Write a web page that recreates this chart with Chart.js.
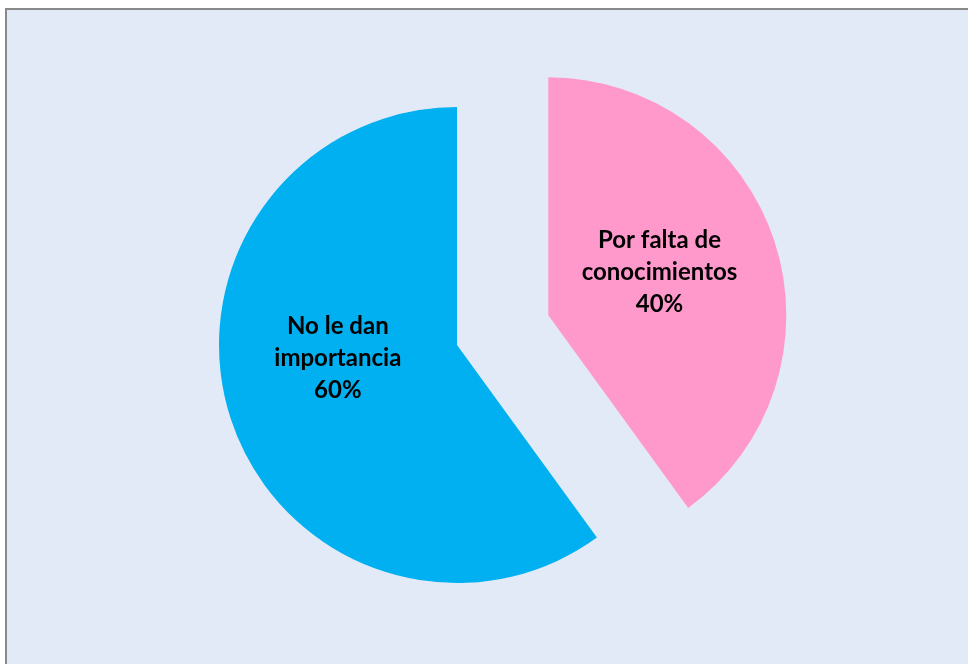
<!DOCTYPE html>
<html lang="es">
<head>
    <meta charset="UTF-8">
    <title>Motivos</title>
    <script src="https://cdn.jsdelivr.net/npm/chart.js"></script>
    <style>
        html, body { margin: 0; padding: 0; background: #ffffff; overflow: hidden; }
        .frame {
            position: absolute; left: 5px; top: 8px; width: 980px; height: 680px;
            background: #e3eaf7; border-left: 2px solid #8a8a8a; border-top: 2px solid #8a8a8a;
        }
        .chart-box { position: absolute; left: 0; top: 0; width: 968px; height: 664px; }
    </style>
</head>
<body>
    <div class="frame"></div>
    <div class="chart-box">
        <canvas id="pieChart"></canvas>
    </div>

    <script>
        const labels = ['Por falta de conocimientos', 'No le dan importancia'];
        const labelLines = [['Por falta de', 'conocimientos'], ['No le dan', 'importancia']];
        const values = [40, 60];
        const colors = ['#ff99cc', '#00b0f0'];
        const offsets = [384, 0];
        const PIE_RADIUS = 238;
        // small nudges for the label blocks (px)
        const labelShift = [[-2, -6], [-6, -24]];

        // Chart.js v4 grows an exploded arc's radius and trims its angle a bit;
        // undo both so the slice keeps the same radius and sweep as the rest
        const evenRadius = {
            id: 'evenRadius',
            afterDatasetsUpdate(chart) {
                chart.getDatasetMeta(0).data.forEach(arc => {
                    const off = (arc.options.offset || 0) / 4;
                    if (!off) return;
                    const fix = 1 - Math.sin(Math.min(Math.PI, arc.circumference));
                    const radiusOffset = off * fix;
                    const trim = radiusOffset / Math.PI / PIE_RADIUS / 2;
                    arc.outerRadius = PIE_RADIUS - radiusOffset;
                    arc.startAngle -= trim;
                    arc.endAngle += trim;
                });
            }
        };

        // writes category + percentage inside each slice
        const sliceLabels = {
            id: 'sliceLabels',
            afterDatasetsDraw(chart) {
                const ctx = chart.ctx;
                const meta = chart.getDatasetMeta(0);
                const total = values.reduce((a, b) => a + b, 0);
                ctx.save();
                ctx.font = 'bold 24px Lato';
                ctx.fillStyle = '#000000';
                ctx.textAlign = 'center';
                ctx.textBaseline = 'middle';
                meta.data.forEach((arc, i) => {
                    const half = (arc.startAngle + arc.endAngle) / 2;
                    const shift = (arc.options.offset || 0) / 4;
                    const r = PIE_RADIUS / 2;
                    const cx = arc.x + Math.cos(half) * (r + shift) + labelShift[i][0];
                    const cy = arc.y + Math.sin(half) * (r + shift) + labelShift[i][1];
                    const pct = Math.round(values[i] / total * 100) + '%';
                    const lines = labelLines[i].concat([pct]);
                    const lh = 32;
                    lines.forEach((t, k) => {
                        ctx.fillText(t, cx, cy + (k - (lines.length - 1) / 2) * lh);
                    });
                });
                ctx.restore();
            }
        };

        new Chart(document.getElementById('pieChart'), {
            type: 'pie',
            data: {
                labels: labels,
                datasets: [{
                    data: values,
                    backgroundColor: colors,
                    borderWidth: 0,
                    offset: offsets,
                    hoverOffset: 0
                }]
            },
            options: {
                responsive: true,
                maintainAspectRatio: false,
                animation: false,
                events: [],
                radius: PIE_RADIUS,
                layout: { padding: { left: 0, right: 54, top: 26, bottom: 0 } },
                plugins: {
                    legend: { display: false },
                    tooltip: { enabled: false }
                }
            },
            plugins: [evenRadius, sliceLabels]
        });
    </script>
</body>
</html>
